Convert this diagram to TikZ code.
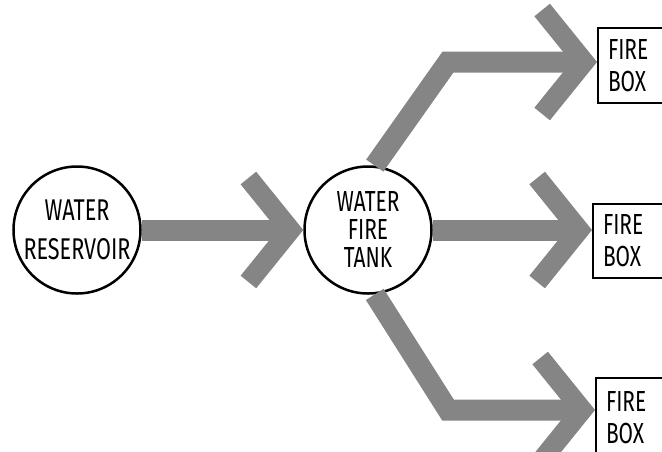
\documentclass[tikz,border=0pt]{standalone}
\usepackage{fontspec}
\newfontfamily\handfont[FakeStretch=0.72]{Fira Sans}
\usetikzlibrary{arrows.meta,positioning,calc}
\definecolor{dotgray}{HTML}{858585}

\begin{document}
\begin{tikzpicture}[x=1pt,y=-1pt,
    tankcircle/.style={circle,draw,line width=2.5pt,minimum size=127pt,inner sep=-3pt,align=center},
    firebox/.style={draw,line width=2pt,anchor=north west,minimum width=100pt,text width=80pt,
      inner xsep=10pt,align=left,font=\handfont\fontsize{29}{32}\selectfont},
    flow/.style={line width=21pt,draw=dotgray,-{Straight Barb[length=42pt,width=104pt,line width=20pt]}}]
  \clip (0,0) rectangle (662,451);
  % tanks
  \node[tankcircle,font=\handfont\fontsize{30}{39}\selectfont] (reservoir) at (77,230) {WATER\\RESERVOIR};
  \node[tankcircle,font=\handfont\fontsize{29}{28}\selectfont] (tank) at (368,230) {WATER\\FIRE\\TANK};
  % fire boxes
  \node[firebox,minimum height=75pt] (boxA) at (597,27) {FIRE\\BOX};
  \node[firebox,minimum height=74pt] (boxB) at (592,203) {FIRE\\BOX};
  \node[firebox,minimum height=80pt] (boxC) at (595,377) {FIRE\\BOX};
  \coordinate (bendA) at (448,62);
  \coordinate (bendC) at (448,410);
  % flows
  \draw[flow] (reservoir) -- (tank);
  \draw[flow] (tank) -- (tank -| boxB.west);
  \draw[flow] (tank.84) -- (bendA) -- (bendA -| boxA.west);
  \draw[flow] (tank.-84) -- (bendC) -- (bendC -| boxC.west);
\end{tikzpicture}
\end{document}
